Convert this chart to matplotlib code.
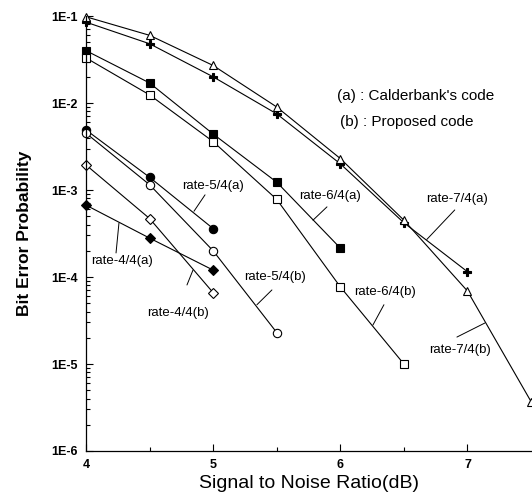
import numpy as np
import matplotlib
matplotlib.use('Agg')
import matplotlib.pyplot as plt
from matplotlib.ticker import LogLocator, FixedLocator, NullFormatter

plt.rcParams['font.family'] = ['Liberation Sans', 'DejaVu Sans']

# SNR (dB) and bit error probability
snr_74a = [4, 4.5, 5, 5.5, 6, 6.5, 7]
ber_74a = [0.085, 0.048, 0.020, 0.0075, 0.0020, 4.2e-4, 1.15e-4]
snr_74b = [4, 4.5, 5, 5.5, 6, 6.5, 7, 7.5]
ber_74b = [0.098, 0.060, 0.027, 0.0090, 0.0023, 4.5e-4, 6.9e-5, 3.7e-6]

snr_64a = [4, 4.5, 5, 5.5, 6]
ber_64a = [0.040, 0.017, 0.0044, 1.23e-3, 2.15e-4]
snr_64b = [4, 4.5, 5, 5.5, 6, 6.5]
ber_64b = [0.033, 0.0124, 0.0036, 7.8e-4, 7.7e-5, 1.0e-5]

snr_54a = [4, 4.5, 5]
ber_54a = [0.0049, 1.4e-3, 3.6e-4]
snr_54b = [4, 4.5, 5, 5.5]
ber_54b = [0.0045, 1.15e-3, 2.0e-4, 2.3e-5]

snr_44a = [4, 4.5, 5]
ber_44a = [6.7e-4, 2.8e-4, 1.2e-4]
snr_44b = [4, 4.5, 5]
ber_44b = [1.94e-3, 4.7e-4, 6.6e-5]

series = [
    (snr_74a, ber_74a, 'P', 'k'),
    (snr_74b, ber_74b, '^', 'w'),
    (snr_64a, ber_64a, 's', 'k'),
    (snr_64b, ber_64b, 's', 'w'),
    (snr_54a, ber_54a, 'o', 'k'),
    (snr_54b, ber_54b, 'o', 'w'),
    (snr_44a, ber_44a, 'D', 'k'),
    (snr_44b, ber_44b, 'D', 'w'),
]

fig = plt.figure(figsize=(5.32, 4.93), dpi=100)
ax = fig.add_axes([0.1617, 0.0852, 0.8365, 0.8823])

for x, y, m, fc in series:
    ms = 5 if m == 'D' else 6
    ax.plot(x, y, color='k', lw=0.8, marker=m, ms=ms, mfc=fc, mec='k',
            mew=0.8, clip_on=False)

ax.set_yscale('log')
ax.set_xlim(4, 7.5)
ax.set_ylim(1e-6, 1e-1)

ax.spines['top'].set_visible(False)
ax.spines['right'].set_visible(False)
ax.spines['left'].set_linewidth(0.9)
ax.spines['bottom'].set_linewidth(0.9)

ax.xaxis.set_major_locator(FixedLocator([4, 5, 6, 7]))
ax.xaxis.set_minor_locator(FixedLocator([4.5, 5.5, 6.5]))
ax.yaxis.set_minor_locator(LogLocator(base=10, subs=np.arange(2, 10), numticks=20))
ax.yaxis.set_minor_formatter(NullFormatter())
ax.set_yticks([1e-6, 1e-5, 1e-4, 1e-3, 1e-2, 1e-1])
ax.set_yticklabels(['1E-6', '1E-5', '1E-4', '1E-3', '1E-2', '1E-1'])
ax.set_xticklabels(['4', '5', '6', '7'])
ax.tick_params(which='both', direction='in', width=0.8, labelsize=9)
ax.tick_params(which='major', length=5, pad=6)
ax.tick_params(which='minor', length=3)
for t in ax.get_xticklabels() + ax.get_yticklabels():
    t.set_fontweight('bold')

ax.set_xlabel('Signal to Noise Ratio(dB)', fontsize=14, labelpad=3)
ax.set_ylabel('Bit Error Probability', fontsize=12.5, fontweight='bold', labelpad=14)

ax.text(5.97, 0.012, "(a) : Calderbank's code", fontsize=11, va='center')
ax.text(6.0, 0.006, "(b) : Proposed code", fontsize=11, va='center')

# curve labels with pointer lines: text centre, pointer start, pointer end
labels = [
    ('rate-4/4(a)', (4.283, 1.53e-4), (4.236, 1.89e-4), (4.259, 4.18e-4)),
    ('rate-4/4(b)', (4.723, 3.86e-5), (4.794, 8.1e-5), (4.841, 1.2e-4)),
    ('rate-5/4(a)', (4.998, 1.11e-3), (4.936, 8.8e-4), (4.849, 5.7e-4)),
    ('rate-5/4(b)', (5.486, 1.0e-4), (5.462, 7.1e-5), (5.344, 4.8e-5)),
    ('rate-6/4(a)', (5.918, 8.5e-4), (5.895, 6.4e-4), (5.785, 4.5e-4)),
    ('rate-6/4(b)', (6.351, 6.7e-5), (6.343, 4.8e-5), (6.256, 2.8e-5)),
    ('rate-7/4(a)', (6.917, 7.9e-4), (6.90, 5.9e-4), (6.68, 2.7e-4)),
    ('rate-7/4(b)', (6.94, 1.45e-5), (7.137, 2.96e-5), (6.917, 2.04e-5)),
]
for txt, tpos, p0, p1 in labels:
    ax.text(tpos[0], tpos[1], txt, fontsize=9.5, ha='center', va='center')
    ax.annotate('', xy=p1, xytext=p0,
                arrowprops=dict(arrowstyle='-', lw=0.7, color='k',
                                shrinkA=0, shrinkB=0))

fig.savefig('out.png', dpi=100)
